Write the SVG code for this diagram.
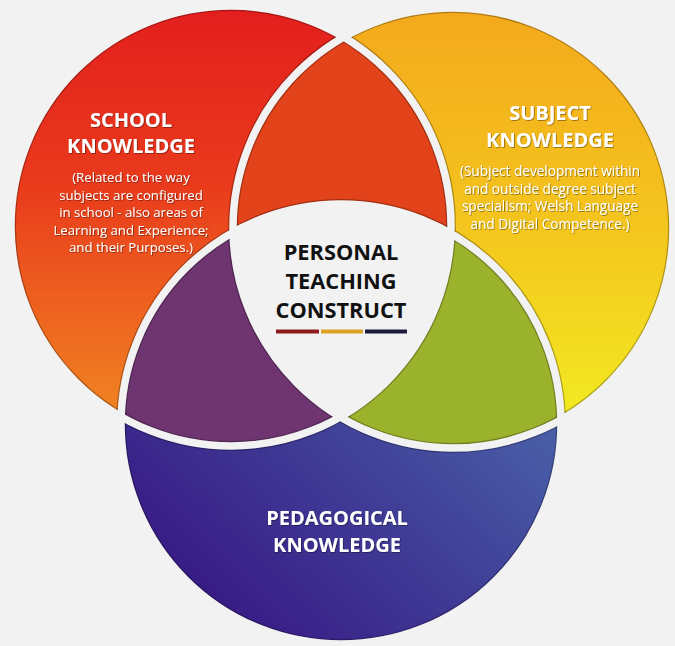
<svg xmlns="http://www.w3.org/2000/svg" width="675" height="646" viewBox="0 0 675 646">
<defs>
<style>
.h{font-family:"Open Sans","Liberation Sans",sans-serif;font-weight:700;fill:#fff;text-anchor:middle;filter:url(#ts)}
.s{font-family:"Open Sans","Liberation Sans",sans-serif;font-weight:400;fill:#fff;text-anchor:middle;filter:url(#ts)}
.c{font-family:"Open Sans","Liberation Sans",sans-serif;font-weight:700;fill:#111;text-anchor:middle}
.gap{fill:none;stroke:#f2f2f2;stroke-width:7.5}
.rim{fill:none;stroke:#000;stroke-opacity:0.28;stroke-width:10}
</style>
<filter id="ts" x="-10%" y="-30%" width="120%" height="160%">
<feDropShadow dx="0.8" dy="0.8" stdDeviation="0.7" flood-color="#000" flood-opacity="0.45"/>
</filter>
<linearGradient id="gL" gradientUnits="userSpaceOnUse" x1="0" y1="10" x2="0" y2="440">
<stop offset="0" stop-color="#e31f1d"/><stop offset="0.4" stop-color="#e93a1c"/><stop offset="1" stop-color="#f28c23"/>
</linearGradient>
<linearGradient id="gR" gradientUnits="userSpaceOnUse" x1="0" y1="12" x2="0" y2="440">
<stop offset="0" stop-color="#f4a91c"/><stop offset="0.5" stop-color="#f4c51e"/><stop offset="1" stop-color="#f2ee22"/>
</linearGradient>
<linearGradient id="gB" gradientUnits="userSpaceOnUse" x1="540" y1="290" x2="220" y2="620">
<stop offset="0" stop-color="#5070b0"/><stop offset="0.5" stop-color="#41449a"/><stop offset="1" stop-color="#381a85"/>
</linearGradient>
<clipPath id="cL"><circle cx="231" cy="226" r="220"/></clipPath>
<clipPath id="cR"><circle cx="453" cy="228" r="220"/></clipPath>
<clipPath id="cLR" clip-path="url(#cL)"><circle cx="453" cy="228" r="220"/></clipPath>
<clipPath id="cU"><circle cx="231" cy="226" r="220"/><circle cx="453" cy="228" r="220"/><circle cx="341" cy="424" r="220"/></clipPath>
</defs>
<rect width="675" height="646" fill="#f2f2f2"/>
<g id="regions">
<circle cx="231" cy="226" r="220" fill="url(#gL)"/>
<circle cx="453" cy="228" r="220" fill="url(#gR)"/>
<circle cx="341" cy="424" r="220" fill="url(#gB)"/>
<circle cx="453" cy="228" r="220" fill="#e2431b" clip-path="url(#cL)"/>
<circle cx="341" cy="424" r="220" fill="#6e3571" clip-path="url(#cL)"/>
<circle cx="341" cy="424" r="220" fill="#9bb22d" clip-path="url(#cR)"/>
<g clip-path="url(#cU)">
<circle class="rim" cx="231" cy="226" r="220"/>
<circle class="rim" cx="453" cy="228" r="220"/>
<circle class="rim" cx="341" cy="424" r="220"/>
</g>
<circle cx="341" cy="424" r="220" fill="#f2f2f2" clip-path="url(#cLR)"/>
<circle class="gap" cx="231" cy="226" r="220"/>
<circle class="gap" cx="453" cy="228" r="220"/>
<circle class="gap" cx="341" cy="424" r="220"/>
</g>
<g id="school-knowledge">
<text class="h" x="131" y="127" font-size="20">SCHOOL</text>
<text class="h" x="131" y="153" font-size="20">KNOWLEDGE</text>
<text class="s" x="131" y="182" font-size="13.2">(Related to the way</text>
<text class="s" x="131" y="199.5" font-size="13.2">subjects are configured</text>
<text class="s" x="131" y="217" font-size="13.2">in school - also areas of</text>
<text class="s" x="131" y="234.5" font-size="13.2">Learning and Experience;</text>
<text class="s" x="131" y="252" font-size="13.2">and their Purposes.)</text>
</g>
<g id="subject-knowledge">
<text class="h" x="550" y="120" font-size="20">SUBJECT</text>
<text class="h" x="550" y="147" font-size="20">KNOWLEDGE</text>
<text class="s" x="550" y="176" font-size="13.6">(Subject development within</text>
<text class="s" x="550" y="193.5" font-size="13.6">and outside degree subject</text>
<text class="s" x="550" y="211" font-size="13.6">specialism; Welsh Language</text>
<text class="s" x="550" y="228.5" font-size="13.6">and Digital Competence.)</text>
</g>
<g id="personal-teaching-construct">
<text class="c" x="341" y="260" font-size="21.8">PERSONAL</text>
<text class="c" x="341" y="289" font-size="21.8">TEACHING</text>
<text class="c" x="341" y="318" font-size="21.8">CONSTRUCT</text>
<rect x="276" y="329.5" width="43" height="4" fill="#8e1b1b"/>
<rect x="321" y="329.5" width="42" height="4" fill="#dba226"/>
<rect x="365" y="329.5" width="42" height="4" fill="#1c1b3c"/>
</g>
<g id="pedagogical-knowledge">
<text class="h" x="337" y="525" font-size="20">PEDAGOGICAL</text>
<text class="h" x="337" y="552" font-size="20">KNOWLEDGE</text>
</g>
<g id="connectors"/>
</svg>
